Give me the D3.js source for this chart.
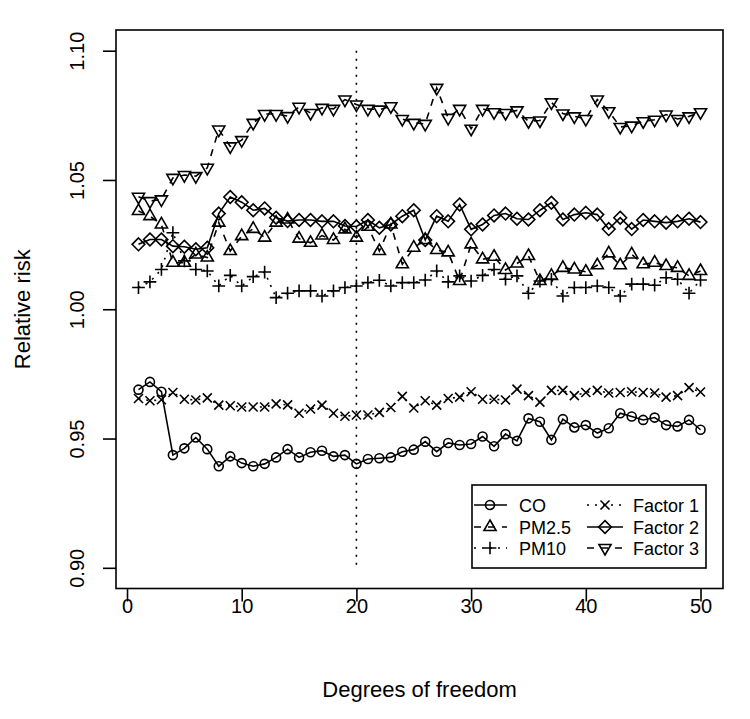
<!DOCTYPE html>
<html>
<head>
<meta charset="utf-8">
<script src="https://cdn.jsdelivr.net/npm/d3@7"></script>
<style>
  body { margin: 0; background: #fff; }
  svg { display: block; }
  text { font-family: "Liberation Sans", Arial, sans-serif; fill: #000; }
</style>
</head>
<body>
<svg id="chart" width="750" height="719"></svg>
<script>
// degrees of freedom
const df = d3.range(1, 51);

// relative risk per pollutant / factor
const co = [0.9689, 0.9719, 0.9681, 0.9436, 0.9462, 0.9504, 0.9459, 0.9393, 0.9431, 0.9405,
  0.9393, 0.9402, 0.9427, 0.9459, 0.9427, 0.9447, 0.9453, 0.9431, 0.9436, 0.9402,
  0.9421, 0.9424, 0.9427, 0.9449, 0.9457, 0.9488, 0.9449, 0.9483, 0.9475, 0.9479,
  0.9508, 0.9470, 0.9517, 0.9491, 0.9578, 0.9565, 0.9495, 0.9575, 0.9543, 0.9552,
  0.9521, 0.9540, 0.9598, 0.9585, 0.9572, 0.9581, 0.9552, 0.9547, 0.9572, 0.9534];
const pm25 = [1.0380, 1.0360, 1.0328, 1.0180, 1.0180, 1.0212, 1.0200, 1.0335, 1.0225, 1.0283,
  1.0311, 1.0277, 1.0335, 1.0347, 1.0273, 1.0257, 1.0285, 1.0268, 1.0309, 1.0277,
  1.0319, 1.0225, 1.0328, 1.0174, 1.0238, 1.0268, 1.0229, 1.0220, 1.0109, 1.0251,
  1.0193, 1.0203, 1.0152, 1.0177, 1.0206, 1.0109, 1.0129, 1.0160, 1.0154, 1.0145,
  1.0170, 1.0216, 1.0170, 1.0212, 1.0174, 1.0180, 1.0167, 1.0160, 1.0129, 1.0148];
const pm10 = [1.0084, 1.0106, 1.0154, 1.0296, 1.0187, 1.0154, 1.0148, 1.0090, 1.0131, 1.0090,
  1.0126, 1.0144, 1.0045, 1.0062, 1.0071, 1.0071, 1.0051, 1.0071, 1.0084, 1.0090,
  1.0103, 1.0112, 1.0090, 1.0103, 1.0103, 1.0113, 1.0148, 1.0106, 1.0129, 1.0109,
  1.0131, 1.0154, 1.0116, 1.0129, 1.0062, 1.0109, 1.0116, 1.0051, 1.0084, 1.0084,
  1.0090, 1.0084, 1.0051, 1.0097, 1.0097, 1.0093, 1.0122, 1.0116, 1.0062, 1.0113];
const factor1 = [0.9655, 0.9646, 0.9650, 0.9678, 0.9652, 0.9649, 0.9657, 0.9629, 0.9627, 0.9622,
  0.9622, 0.9622, 0.9634, 0.9630, 0.9598, 0.9614, 0.9629, 0.9598, 0.9586, 0.9591,
  0.9591, 0.9601, 0.9620, 0.9663, 0.9618, 0.9646, 0.9629, 0.9655, 0.9660, 0.9681,
  0.9652, 0.9652, 0.9649, 0.9691, 0.9666, 0.9641, 0.9686, 0.9686, 0.9666, 0.9678,
  0.9686, 0.9676, 0.9678, 0.9681, 0.9678, 0.9676, 0.9660, 0.9666, 0.9697, 0.9680];
const factor2 = [1.0251, 1.0270, 1.0270, 1.0244, 1.0242, 1.0232, 1.0238, 1.0370, 1.0434, 1.0414,
  1.0383, 1.0390, 1.0354, 1.0341, 1.0345, 1.0345, 1.0340, 1.0340, 1.0322, 1.0320,
  1.0345, 1.0315, 1.0328, 1.0360, 1.0383, 1.0268, 1.0360, 1.0340, 1.0405, 1.0309,
  1.0328, 1.0363, 1.0370, 1.0350, 1.0347, 1.0383, 1.0412, 1.0347, 1.0366, 1.0373,
  1.0366, 1.0310, 1.0354, 1.0310, 1.0345, 1.0340, 1.0335, 1.0340, 1.0350, 1.0337];
const factor3 = [1.0435, 1.0418, 1.0425, 1.0508, 1.0519, 1.0515, 1.0547, 1.0695, 1.0630, 1.0654,
  1.0721, 1.0755, 1.0755, 1.0747, 1.0783, 1.0759, 1.0779, 1.0775, 1.0811, 1.0792,
  1.0775, 1.0772, 1.0785, 1.0736, 1.0721, 1.0717, 1.0856, 1.0740, 1.0775, 1.0698,
  1.0775, 1.0762, 1.0759, 1.0769, 1.0727, 1.0730, 1.0800, 1.0757, 1.0746, 1.0736,
  1.0811, 1.0766, 1.0705, 1.0710, 1.0727, 1.0733, 1.0753, 1.0736, 1.0746, 1.0762];

const xTicks = [0, 10, 20, 30, 40, 50];
const yTicks = [0.90, 0.95, 1.00, 1.05, 1.10];
const refDf = 20;

// name, values, line style, symbol
const series = [
  { name: "CO",       values: co,      dash: null,  sym: "circle" },
  { name: "PM2.5",    values: pm25,    dash: "7,7", sym: "triUp" },
  { name: "PM10",     values: pm10,    dash: "2,6", sym: "plus" },
  { name: "Factor 1", values: factor1, dash: "2,6", sym: "cross" },
  { name: "Factor 2", values: factor2, dash: null,  sym: "diamond" },
  { name: "Factor 3", values: factor3, dash: "7,7", sym: "triDown" }
];

const svg = d3.select("#chart");
const box = { left: 116, right: 723, top: 30, bottom: 588.5 };

// R style 4% padding around the data range
const x = d3.scaleLinear().domain([-0.96, 51.96]).range([box.left, box.right]);
const y = d3.scaleLinear().domain([0.892, 1.108]).range([box.bottom, box.top]);

const lw = 1.6;
const s = 4.5; // symbol radius

function symbolPath(type, cx, cy) {
  let r, xc, yc;
  switch (type) {
    case "circle":
      return `M${cx - s},${cy}a${s},${s} 0 1,0 ${2 * s},0a${s},${s} 0 1,0 ${-2 * s},0Z`;
    case "triUp":
      r = 1.5551 * s; xc = 1.3468 * s; yc = 0.7776 * s;
      return `M${cx},${cy - r}L${cx + xc},${cy + yc}L${cx - xc},${cy + yc}Z`;
    case "triDown":
      r = 1.5551 * s; xc = 1.3468 * s; yc = 0.7776 * s;
      return `M${cx},${cy + r}L${cx + xc},${cy - yc}L${cx - xc},${cy - yc}Z`;
    case "plus":
      xc = Math.SQRT2 * s;
      return `M${cx - xc},${cy}H${cx + xc}M${cx},${cy - xc}V${cy + xc}`;
    case "cross":
      return `M${cx - s},${cy - s}L${cx + s},${cy + s}M${cx - s},${cy + s}L${cx + s},${cy - s}`;
    case "diamond":
      xc = Math.SQRT2 * s;
      return `M${cx},${cy - xc}L${cx + xc},${cy}L${cx},${cy + xc}L${cx - xc},${cy}Z`;
  }
}

// reference line at df = 20
svg.append("line")
  .attr("x1", x(refDf)).attr("x2", x(refDf))
  .attr("y1", y(1.10)).attr("y2", y(0.90))
  .attr("stroke", "#000").attr("stroke-width", lw)
  .attr("stroke-dasharray", "2,6");

const line = d3.line().x((d, i) => x(df[i])).y(d => y(d));

series.forEach(function(sr) {
  svg.append("path")
    .attr("d", line(sr.values))
    .attr("fill", "none")
    .attr("stroke", "#000")
    .attr("stroke-width", lw)
    .attr("stroke-dasharray", sr.dash);

  svg.append("g").selectAll("path")
    .data(sr.values)
    .enter()
    .append("path")
    .attr("d", (d, i) => symbolPath(sr.sym, x(df[i]), y(d)))
    .attr("fill", "none")
    .attr("stroke", "#000")
    .attr("stroke-width", lw);
});

// box
svg.append("rect")
  .attr("x", box.left).attr("y", box.top)
  .attr("width", box.right - box.left).attr("height", box.bottom - box.top)
  .attr("fill", "none").attr("stroke", "#000").attr("stroke-width", lw);

// axes
const xAxis = svg.append("g")
  .attr("transform", `translate(0,${box.bottom})`)
  .call(d3.axisBottom(x).tickValues(xTicks).tickSize(13).tickFormat(d3.format("d")));
const yAxis = svg.append("g")
  .attr("transform", `translate(${box.left},0)`)
  .call(d3.axisLeft(y).tickValues(yTicks).tickSize(13).tickFormat(d3.format(".2f")));

[xAxis, yAxis].forEach(function(a) {
  a.select(".domain").remove();
  a.selectAll(".tick line").attr("stroke", "#000").attr("stroke-width", lw);
  a.selectAll(".tick text").attr("font-size", 20).attr("fill", "#000")
    .style("font-family", '"Liberation Sans", Arial, sans-serif');
});
xAxis.selectAll(".tick text").attr("dy", null).attr("y", 24.5);
yAxis.selectAll(".tick text")
  .attr("x", null).attr("dy", null)
  .attr("text-anchor", "middle")
  .attr("transform", "translate(-32,0) rotate(-90)");

// axis titles
svg.append("text")
  .attr("x", (box.left + box.right) / 2).attr("y", 697)
  .attr("text-anchor", "middle").attr("font-size", 22)
  .text("Degrees of freedom");
svg.append("text")
  .attr("transform", `translate(30,${(box.top + box.bottom) / 2}) rotate(-90)`)
  .attr("text-anchor", "middle").attr("font-size", 22)
  .text("Relative risk");

// legend
const lg = { left: 472, right: 706, top: 485, bottom: 568 };
svg.append("rect")
  .attr("x", lg.left).attr("y", lg.top)
  .attr("width", lg.right - lg.left).attr("height", lg.bottom - lg.top)
  .attr("fill", "#fff").attr("stroke", "#000").attr("stroke-width", lw);

const rowY = [505, 527, 548];
const cols = [{ x1: 474, x2: 507, sx: 490, tx: 519 }, { x1: 587, x2: 623, sx: 605, tx: 633 }];

series.forEach(function(sr, i) {
  const c = cols[Math.floor(i / 3)];
  const ry = rowY[i % 3];
  svg.append("line")
    .attr("x1", c.x1).attr("x2", c.x2).attr("y1", ry).attr("y2", ry)
    .attr("stroke", "#000").attr("stroke-width", lw)
    .attr("stroke-dasharray", sr.dash);
  svg.append("path")
    .attr("d", symbolPath(sr.sym, c.sx, ry))
    .attr("fill", "none").attr("stroke", "#000").attr("stroke-width", lw);
  svg.append("text")
    .attr("x", c.tx).attr("y", ry + 6.5)
    .attr("font-size", 18)
    .text(sr.name);
});
</script>
</body>
</html>
